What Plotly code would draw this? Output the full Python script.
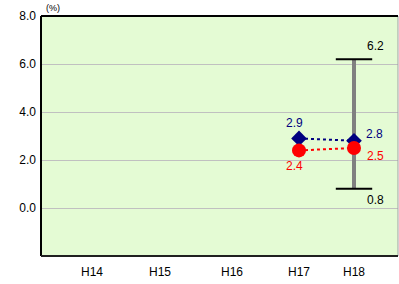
import plotly.graph_objects as go

categories = ["H14", "H15", "H16", "H17", "H18"]
series_blue = [None, None, None, 2.9, 2.8]
series_red = [None, None, None, 2.4, 2.5]
range_low = 0.8
range_high = 6.2
range_cat = "H18"
y_ticks = [0.0, 2.0, 4.0, 6.0, 8.0]

# layout positions of the (unevenly spaced) category slots, in plot px units
cat_pos = [51, 119, 191, 258, 313]
pos = dict(zip(categories, cat_pos))

fig = go.Figure()

# range bar
rx = pos[range_cat]
fig.add_trace(go.Scatter(x=[rx, rx], y=[range_low, range_high], mode="lines",
                         line=dict(color="#808080", width=4), hoverinfo="skip", showlegend=False))
fig.add_trace(go.Scatter(x=[rx, rx], y=[range_low, range_high], mode="markers",
                         marker=dict(symbol="line-ew", size=26, line=dict(color="black", width=2)),
                         hoverinfo="skip", showlegend=False))

bx = [pos[c] for c, v in zip(categories, series_blue) if v is not None]
by = [v for v in series_blue if v is not None]
rxs = [pos[c] for c, v in zip(categories, series_red) if v is not None]
ry = [v for v in series_red if v is not None]

fig.add_trace(go.Scatter(x=bx, y=by, mode="lines+markers",
                         line=dict(color="#000080", width=2, dash="dot"),
                         marker=dict(symbol="diamond", size=12, color="#000080"),
                         showlegend=False))
fig.add_trace(go.Scatter(x=rxs, y=ry, mode="lines+markers",
                         line=dict(color="#ff0000", width=2, dash="dot"),
                         marker=dict(symbol="circle", size=14, color="#ff0000"),
                         showlegend=False))

font = dict(family="Liberation Sans, Arial, sans-serif", size=12)
ann = []
# blue labels
ann.append(dict(x=bx[0], y=by[0], text=f"{by[0]:.1f}", showarrow=False, xshift=-5, yshift=15,
                font=dict(font, color="#000080")))
ann.append(dict(x=bx[1], y=by[1], text=f"{by[1]:.1f}", showarrow=False, xshift=20, yshift=7,
                font=dict(font, color="#000080")))
# red labels
ann.append(dict(x=rxs[0], y=ry[0], text=f"{ry[0]:.1f}", showarrow=False, xshift=-5, yshift=-16,
                font=dict(font, color="#ff0000")))
ann.append(dict(x=rxs[1], y=ry[1], text=f"{ry[1]:.1f}", showarrow=False, xshift=21, yshift=-8,
                font=dict(font, color="#ff0000")))
# range labels
ann.append(dict(x=rx, y=range_high, text=f"{range_high:.1f}", showarrow=False, xshift=21, yshift=13,
                font=dict(font, color="black")))
ann.append(dict(x=rx, y=range_low, text=f"{range_low:.1f}", showarrow=False, xshift=21, yshift=-11,
                font=dict(font, color="black")))
# unit
ann.append(dict(x=0, y=1, xref="paper", yref="paper", text="(%)", showarrow=False,
                xanchor="left", yanchor="bottom", xshift=3, yshift=1,
                font=dict(family="Liberation Sans, Arial, sans-serif", size=9, color="black")))

shapes = [
    dict(type="line", xref="paper", yref="paper", x0=1, x1=1, y0=0, y1=1,
         line=dict(color="#a0a0a0", width=1)),
    dict(type="line", xref="paper", yref="paper", x0=0, x1=0, y0=0, y1=1,
         line=dict(color="black", width=2)),
    dict(type="line", xref="paper", yref="paper", x0=0, x1=1, y0=1, y1=1,
         line=dict(color="black", width=2)),
    dict(type="line", xref="paper", yref="paper", x0=0, x1=1, y0=0, y1=0,
         line=dict(color="#202020", width=2)),
]

fig.update_layout(
    width=399, height=284,
    margin=dict(l=41, r=1, t=16, b=28),
    paper_bgcolor="white",
    plot_bgcolor="#e4fbd4",
    font=font,
    annotations=ann,
    shapes=shapes,
    xaxis=dict(range=[0, 357], tickvals=cat_pos, ticktext=categories, showgrid=False,
               zeroline=False, showline=False, ticks="", fixedrange=True,
               ticklabelstandoff=7, tickfont=dict(font, color="black")),
    yaxis=dict(range=[-2, 8], tickvals=y_ticks, ticktext=[f"{v:.1f}" for v in y_ticks],
               showgrid=True, gridcolor="#c0c0c0", gridwidth=1, zeroline=False,
               showline=False, ticks="", ticklabelstandoff=4, fixedrange=True,
               tickfont=dict(font, color="black")),
)

fig.write_html("out.html", config={"displayModeBar": False, "staticPlot": True},
               post_script="document.body.style.margin='0';document.body.style.overflow='hidden';")
